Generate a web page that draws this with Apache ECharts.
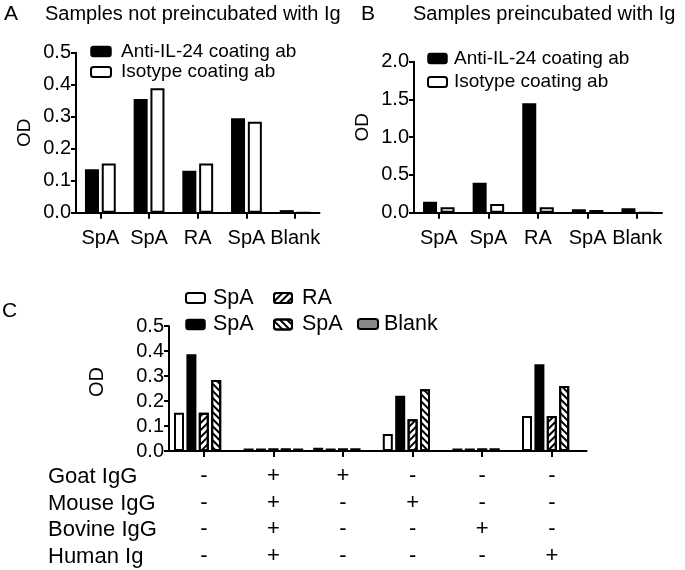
<!DOCTYPE html>
<html>
<head>
<meta charset="utf-8">
<script src="https://cdn.jsdelivr.net/npm/echarts@6/dist/echarts.min.js"></script>
<style>
html,body{margin:0;padding:0;background:#fff;}
#c{width:685px;height:570px;}
</style>
</head>
<body>
<div id="c"></div>
<script>
// ---- Data ----
var samplesAB = ['SpA', 'SpA', 'RA', 'SpA', 'Blank'];
var aAnti = [0.136, 0.355, 0.131, 0.295, 0.008];
var aIso = [0.154, 0.389, 0.154, 0.284, 0];
var bAnti = [0.146, 0.397, 1.449, 0.045, 0.058];
var bIso = [0.071, 0.115, 0.071, 0.036, 0];

var groupsC = ['g1', 'g2', 'g3', 'g4', 'g5', 'g6'];
var goatIgG = ['-', '+', '+', '-', '-', '-'];
var mouseIgG = ['-', '+', '-', '+', '-', '-'];
var bovineIgG = ['-', '+', '-', '-', '+', '-'];
var humanIg = ['-', '+', '-', '-', '-', '+'];
var rowLabelsC = ['Goat IgG', 'Mouse IgG', 'Bovine IgG', 'Human Ig'];

var cSpA1 = [0.153, 0.01, 0.013, 0.068, 0.01, 0.140];
var cSpA2 = [0.387, 0.01, 0.01, 0.221, 0.01, 0.347];
var cRA = [0.153, 0.01, 0.01, 0.127, 0.01, 0.140];
var cSpA3 = [0.284, 0.01, 0.01, 0.247, 0.01, 0.260];
var cBlank = [0, 0.01, 0, 0, 0, 0];

// ---- Styles ----
var FONT = '"Liberation Sans", Arial, Helvetica, sans-serif';
var BLACK = '#000';
var hatchUp = {symbol: 'rect', symbolSize: 1, dashArrayX: [1, 0], dashArrayY: [2, 2.5], rotation: -Math.PI / 4, color: '#000'};
var hatchDown = {symbol: 'rect', symbolSize: 1, dashArrayX: [1, 0], dashArrayY: [2, 2.5], rotation: Math.PI / 4, color: '#000'};

var styleBlack = {color: '#000', borderColor: '#000', borderWidth: 1.5};
var styleWhite = {color: '#fff', borderColor: '#000', borderWidth: 2};
var styleUp = {color: '#fff', borderColor: '#000', borderWidth: 2, decal: hatchUp};
var styleDown = {color: '#fff', borderColor: '#000', borderWidth: 2, decal: hatchDown};
var styleGray = {color: '#888', borderColor: '#000', borderWidth: 2};

function xAxisBase(extra) {
  var o = {
    type: 'category',
    axisLine: {show: true, lineStyle: {color: BLACK, width: 2}},
    axisTick: {show: true, alignWithLabel: true, length: 6, lineStyle: {color: BLACK, width: 2}},
    axisLabel: {color: BLACK, fontSize: 20, fontFamily: FONT, margin: 16, interval: 0},
    splitLine: {show: false}
  };
  for (var k in extra) o[k] = extra[k];
  return o;
}
function yAxisBase(extra) {
  var o = {
    type: 'value',
    min: 0,
    name: 'OD',
    nameLocation: 'middle',
    nameRotate: 90,
    nameTextStyle: {color: BLACK, fontSize: 19, fontFamily: FONT},
    axisLine: {show: true, lineStyle: {color: BLACK, width: 2}},
    axisTick: {show: true, length: 5, lineStyle: {color: BLACK, width: 2}},
    axisLabel: {color: BLACK, fontSize: 20, fontFamily: FONT, margin: 5, formatter: function (v) { return v.toFixed(1); }},
    splitLine: {show: false}
  };
  for (var k in extra) o[k] = extra[k];
  return o;
}

var chart = echarts.init(document.getElementById('c'), null, {renderer: 'canvas'});

var option = {
  animation: false,
  backgroundColor: '#fff',
  title: [
    {text: 'A', left: 4, top: 4, padding: 0, textStyle: {fontSize: 21, fontWeight: 'normal', color: BLACK, fontFamily: FONT}},
    {text: 'Samples not preincubated with Ig', left: 45, top: 4, padding: 0, textStyle: {fontSize: 20, fontWeight: 'normal', color: BLACK, fontFamily: FONT}},
    {text: 'B', left: 361, top: 4, padding: 0, textStyle: {fontSize: 21, fontWeight: 'normal', color: BLACK, fontFamily: FONT}},
    {text: 'Samples preincubated with Ig', left: 413, top: 4, padding: 0, textStyle: {fontSize: 20, fontWeight: 'normal', color: BLACK, fontFamily: FONT}},
    {text: 'C', left: 2, top: 301, padding: 0, textStyle: {fontSize: 21, fontWeight: 'normal', color: BLACK, fontFamily: FONT}}
  ],
  legend: [
    {left: 90, top: 42, orient: 'vertical', itemWidth: 20, itemHeight: 10, itemGap: 1.5, padding: 0,
     textStyle: {fontSize: 19, color: BLACK, fontFamily: FONT, padding: [0, 0, 0, 5]}, selectedMode: false,
     data: [{name: 'Anti-IL-24 coating ab', itemStyle: styleBlack}, {name: 'Isotype coating ab', itemStyle: styleWhite}]},
    {left: 427, top: 49, orient: 'vertical', itemWidth: 19, itemHeight: 10, itemGap: 4.5, padding: 0,
     textStyle: {fontSize: 19, color: BLACK, fontFamily: FONT, padding: [0, 0, 0, 2]}, selectedMode: false,
     data: [{name: 'Anti-IL-24 coating ab', itemStyle: styleBlack}, {name: 'Isotype coating ab', itemStyle: styleWhite}]},
    {left: 185, top: 287, orient: 'vertical', itemWidth: 19, itemHeight: 10, itemGap: 4.5, padding: 0,
     textStyle: {fontSize: 21.5, color: BLACK, fontFamily: FONT, padding: [0, 0, 0, 3]}, selectedMode: false,
     formatter: function (n) { return n.split('#')[0]; },
     data: [{name: 'SpA#1', itemStyle: styleWhite}, {name: 'SpA#2', itemStyle: styleBlack}]},
    {left: 273, top: 287, orient: 'vertical', itemWidth: 18, itemHeight: 10, itemGap: 4.5, padding: 0,
     textStyle: {fontSize: 21.5, color: BLACK, fontFamily: FONT, padding: [0, 0, 0, 5]}, selectedMode: false,
     formatter: function (n) { return n.split('#')[0]; },
     data: [{name: 'RA', itemStyle: styleUp}, {name: 'SpA#3', itemStyle: styleDown}]},
    {left: 357, top: 313, orient: 'vertical', itemWidth: 20, itemHeight: 10, itemGap: 4.5, padding: 0,
     textStyle: {fontSize: 21.5, color: BLACK, fontFamily: FONT, padding: [0, 0, 0, 1]}, selectedMode: false,
     data: [{name: 'Blank', itemStyle: styleGray}]}
  ],
  grid: [
    {left: 76, top: 52.7, width: 243.5, height: 160},
    {left: 414, top: 61.7, width: 248, height: 151},
    {left: 169, top: 326, width: 417.6, height: 125}
  ],
  xAxis: [
    xAxisBase({gridIndex: 0, data: samplesAB}),
    xAxisBase({gridIndex: 1, data: samplesAB}),
    xAxisBase({gridIndex: 2, data: groupsC,
      axisLabel: {color: BLACK, fontSize: 22, fontFamily: FONT, margin: 12, lineHeight: 26.5, interval: 0,
        formatter: function (v, i) { return [goatIgG[i], mouseIgG[i], bovineIgG[i], humanIg[i]].join('\n'); }}})
  ],
  yAxis: [
    yAxisBase({gridIndex: 0, max: 0.5, interval: 0.1, nameGap: 42}),
    yAxisBase({gridIndex: 1, max: 2.0, interval: 0.5, nameGap: 42,
      nameTextStyle: {color: BLACK, fontSize: 19, fontFamily: FONT, padding: [0, 0, 0, 20]}}),
    yAxisBase({gridIndex: 2, max: 0.5, interval: 0.1, nameGap: 62,
      nameTextStyle: {color: BLACK, fontSize: 20, fontFamily: FONT, padding: [0, 0, 0, 13]}})
  ],
  graphic: [
    {type: 'text', left: 48, top: 464, style: {text: rowLabelsC.join('\n'), font: '22px ' + FONT, fill: BLACK, lineHeight: 26.5}}
  ],
  series: [
    {name: 'Anti-IL-24 coating ab', type: 'bar', xAxisIndex: 0, yAxisIndex: 0, data: aAnti, barWidth: 14, barGap: '20%', itemStyle: styleBlack},
    {name: 'Isotype coating ab', type: 'bar', xAxisIndex: 0, yAxisIndex: 0, data: aIso, barWidth: 14, barGap: '20%', itemStyle: styleWhite},
    {name: 'Anti-IL-24 coating ab', type: 'bar', xAxisIndex: 1, yAxisIndex: 1, data: bAnti, barWidth: 14, barGap: '25%', itemStyle: styleBlack},
    {name: 'Isotype coating ab', type: 'bar', xAxisIndex: 1, yAxisIndex: 1, data: bIso, barWidth: 14, barGap: '25%', itemStyle: styleWhite},
    {name: 'SpA#1', type: 'bar', xAxisIndex: 2, yAxisIndex: 2, data: cSpA1, barWidth: 10, barGap: '24%', itemStyle: styleWhite},
    {name: 'SpA#2', type: 'bar', xAxisIndex: 2, yAxisIndex: 2, data: cSpA2, barWidth: 10, barGap: '24%', itemStyle: styleBlack},
    {name: 'RA', type: 'bar', xAxisIndex: 2, yAxisIndex: 2, data: cRA, barWidth: 10, barGap: '24%', itemStyle: styleUp},
    {name: 'SpA#3', type: 'bar', xAxisIndex: 2, yAxisIndex: 2, data: cSpA3, barWidth: 10, barGap: '24%', itemStyle: styleDown},
    {name: 'Blank', type: 'bar', xAxisIndex: 2, yAxisIndex: 2, data: cBlank, barWidth: 10, barGap: '24%', itemStyle: styleGray}
  ]
};
chart.setOption(option);
</script>
</body>
</html>
